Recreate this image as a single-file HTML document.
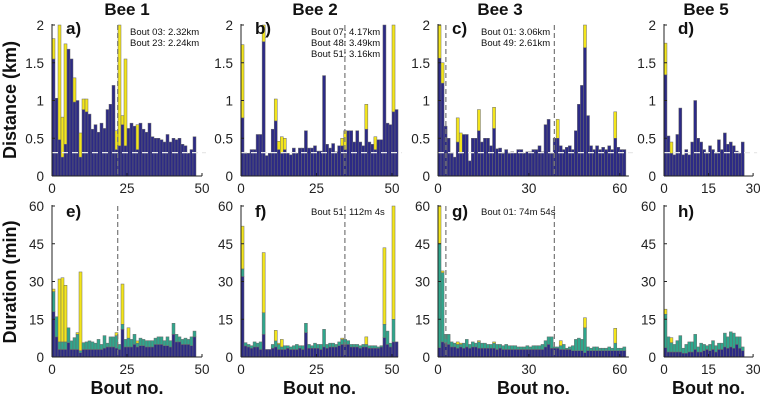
<!DOCTYPE html>
<html><head><meta charset="utf-8"><style>
html,body{margin:0;padding:0;background:#fff;}
svg{display:block;font-family:"Liberation Sans",Arial,sans-serif;}
</style></head><body>
<svg id="chart" width="760" height="400" viewBox="0 0 760 400"></svg>
<script>
// ---------- data ----------
const bee1DistNavy=[1.55,1.03,0.48,0.25,0.42,1.68,1.55,0.98,1.0,0.25,0.88,0.85,0.82,0.62,0.68,0.58,0.7,0.63,0.88,0.95,1.2,0.35,0.4,0.68,0.4,0.63,0.7,0.66,0.35,0.7,0.62,0.58,0.7,0.52,0.5,0.5,0.48,0.45,0.55,0.45,0.5,0.48,0.5,0.42,0.4,0.3,0.35,0.52];
const bee1DistTotal=[1.82,1.03,2.0,0.78,1.75,1.68,1.55,1.3,1.0,0.57,1.02,1.02,0.82,0.62,0.68,0.58,0.7,0.63,0.88,0.95,1.2,0.6,2.0,0.8,1.55,0.63,0.7,0.66,0.68,0.7,0.62,0.58,0.7,0.52,0.5,0.5,0.48,0.45,0.55,0.45,0.5,0.48,0.5,0.42,0.4,0.3,0.35,0.52];
const bee2DistNavy=[0.77,0.3,0.3,0.35,0.35,0.55,0.55,1.78,0.27,0.3,0.62,0.73,0.35,0.3,0.35,0.3,0.28,0.37,0.3,0.37,0.37,0.6,0.37,0.37,0.4,0.33,0.33,1.33,0.42,0.37,0.43,0.32,0.4,0.4,0.35,0.6,0.6,0.45,0.6,0.45,0.4,0.62,0.45,0.42,0.35,0.48,0.48,2.0,0.7,0.68,0.85,0.88];
const bee2DistTotal=[1.74,0.3,0.3,0.35,0.35,0.55,0.55,2.0,0.27,0.3,0.62,1.02,0.46,0.52,0.5,0.3,0.28,0.37,0.3,0.37,0.37,0.6,0.37,0.37,0.4,0.33,0.33,1.33,0.42,0.37,0.43,0.32,0.4,0.5,0.6,0.6,0.6,0.45,0.6,0.45,0.4,0.95,0.45,0.42,0.52,0.48,0.48,2.0,0.7,0.68,2.0,0.88];
const bee3DistNavy=[1.56,1.23,0.66,0.5,0.3,0.25,0.45,0.3,0.55,0.55,0.2,0.5,0.5,0.6,0.45,0.5,0.5,0.4,0.63,0.36,0.37,0.3,0.35,0.3,0.32,0.3,0.35,0.35,0.3,0.32,0.32,0.35,0.35,0.4,0.32,0.68,0.75,0.3,0.5,0.5,0.4,0.35,0.38,0.4,0.35,0.6,0.95,1.2,1.7,0.8,0.4,0.35,0.4,0.35,0.38,0.35,0.4,0.35,0.5,0.38,0.35,0.35];
const bee3DistTotal=[2.0,1.5,0.66,0.5,0.3,0.25,0.77,0.57,0.55,0.55,0.2,0.5,0.5,0.88,0.45,0.5,0.5,0.4,0.91,0.36,0.37,0.3,0.35,0.3,0.32,0.3,0.35,0.35,0.3,0.32,0.32,0.35,0.35,0.4,0.32,0.68,0.75,0.3,0.5,0.75,0.4,0.35,0.38,0.4,0.35,0.6,0.95,1.2,2.0,0.8,0.4,0.35,0.4,0.35,0.38,0.35,0.4,0.35,0.85,0.38,0.35,0.35];
const bee5DistNavy=[1.34,0.53,0.3,0.28,0.55,0.9,0.28,0.35,0.28,0.45,1.0,0.5,0.45,0.35,0.3,0.4,0.35,0.3,0.48,0.35,0.57,0.42,0.45,0.4,0.33,0.3,0.45];
const bee5DistTotal=[1.76,0.53,0.45,0.28,0.55,0.9,0.28,0.35,0.28,0.45,1.0,0.5,0.45,0.35,0.3,0.4,0.35,0.3,0.48,0.35,0.57,0.42,0.45,0.4,0.33,0.3,0.45];

const bee1DurNavy=[18,8,3,3,3,5.7,3,3,3,1.7,3,3,3,3,3,3,3,3.5,4,4,4,3.5,3,11,4,4,4,5,4,4.5,4.5,4,4,4,5,5,5,4.5,4.5,4,9,6,6,5,5,5,4.5,8];
const bee1DurTeal=[26,16,6,6,6,11.6,6.4,7.7,9,2.5,5.7,6,6.4,6,5.5,7,5,8.5,5.5,8,8,8.5,5,13,7,7.5,7,9,5.5,7.5,7,6.5,6.5,6.5,7.5,8,8,6.5,8,6.5,13.4,9,8,7,7.5,7,8,10.3];
const bee1DurTotal=[27,16,31,31.5,28.5,11.6,6.4,7.7,9.7,33.8,5.7,6,6.4,6,5.5,7,5,8.5,5.5,8,8,9.7,5,29,7,11.6,7,9,6.4,7.5,7,6.5,6.5,6.5,7.5,8,8,6.5,8,6.5,13.4,9,8,7,7.5,7,8,10.3];
const bee2DurNavy=[32,4.4,4,3.5,4,4,3,9,3,3,3.5,4,3,3,3,3.5,3,3,3,3.5,3,9.7,3.5,3.5,3.5,3.5,3,4,3.5,4,4,4,4.5,5,5,5,4,4,4,3.5,4,4,3.5,3.5,3.5,3.5,4,7.7,5,4,6,6];
const bee2DurTeal=[35,5.7,5,4.5,6,5.5,6,17.6,3,3,5,6.4,5,4,4.5,4.5,4,4.5,5,4.5,4.5,13.4,5,4.5,5.5,5,5,11,5,5.5,5.5,5,6,7,7,6.5,5,5,5,4.5,5,5,4.5,4.5,4.5,4,4.5,13,10.3,5.5,15,5];
const bee2DurTotal=[52,5.7,5,4.5,6,5.5,6,41.5,3,3,5,10.6,5.5,7,4.5,4.5,4,4.5,5,4.5,4.5,13.4,5,4.5,5.5,5,5,11,5,5.5,5.5,5,6,7.5,7,6.5,5,5,5,4.5,5,8,4.5,4.5,4.5,4,4.5,43.4,10.3,5.5,60,5];
const bee3DurNavy=[3.7,6,5.5,5,4,4,3.5,4,3.5,4,3.5,4,4,3.5,3.5,3.5,3.5,3.5,3.5,3,3.5,3,3,3,3,3,3,3,3,3,3,3,3,3,3,4,5,3.5,3.5,3.5,3,3,3,3,2.5,2.5,2.5,2.5,1.7,2.5,2.5,2.5,2.5,2.5,2.5,2.5,2.5,2.5,2.5,2.5,2.5,2.5];
const bee3DurTeal=[45,33.5,9,9,6,5.5,5,5,5.5,7,5,6,5.5,6,5.5,5.5,5,5,5.5,5,5,4.5,5,4.5,4.5,4.5,4,4,4,4.5,4,4.5,4.5,4.5,5,6.5,8,8,4,4,4.5,5,3.5,4,4.5,7,7.5,7,11.6,4,3.5,4,4,3.5,3.5,3.5,4,3.5,5.5,3.5,3.5,4];
const bee3DurTotal=[60,34.2,9,9,6,5.5,6,5.5,5.5,7,5,6,5.5,6.5,5.5,5.5,5,5,6,5,5,4.5,5,4.5,4.5,4.5,4,4,4,4.5,4,4.5,4.5,4.5,5,6.5,8,8,4,4,6.5,5,3.5,4,4.5,7,7.5,7,15.6,4,3.5,4,4,3.5,3.5,3.5,4,3.5,11.4,3.5,3.5,4];
const bee5DurNavy=[3.7,2,2,2,2,2,1.5,1.5,2,2,3,2,2,2.5,3,2.5,3,2,3,3,4,3.5,4,3.5,5,3.5,2.5];
const bee5DurTeal=[17,8,5.7,5,6.5,8.5,3.5,5,6,6,9,4,5.5,5,4.5,5,6.5,4.5,5.5,5.5,9.5,8,10,9.5,8,8,4];
const bee5DurTotal=[19,8,7.7,5,6.5,8.5,3.5,5,6,6,9,4,5.5,5,4.5,5,6.5,4.5,5.5,5.5,9.5,8,10,9.5,8,8,4];

const distTicks=["0","0.5","1","1.5","2"];
const durTicks=["0","15","30","45","60"];
const beeTitles=["Bee 1","Bee 2","Bee 3","Bee 5"];
const xTicks1=[0,25,50], xTicks2=[0,25,50], xTicks3=[0,30,60], xTicks5=[0,15,30];

// ---------- drawing ----------
const NS="http://www.w3.org/2000/svg";
const svg=document.getElementById('chart');
const NAVY="#2c2a85", YEL="#f3e51b", TEAL="#2fa68c", EDGE="#6a6a6a";
function mk(tag,attrs,parent){const e=document.createElementNS(NS,tag);for(const k in attrs)e.setAttribute(k,attrs[k]);(parent||svg).appendChild(e);return e;}

const cols=[
 {x0:52, k:3.0, xmax:50, ticks:xTicks1, cx:127, vline:[21.9], lab:["a)","e)"]},
 {x0:241,k:3.02,xmax:52, ticks:xTicks2, cx:315, vline:[34.4], lab:["b)","f)"]},
 {x0:438,k:3.03,xmax:63, ticks:xTicks3, cx:500, vline:[2.6,38.4], lab:["c)","g)"]},
 {x0:664,k:2.97,xmax:30, ticks:xTicks5, cx:706, vline:[], lab:["d)","h)"]}
];
const TOP={y0:176, y1:25, vmax:2};
const BOT={y0:357, y1:206, vmax:60};
function yS(p,v){return p.y0-(Math.min(v,p.vmax)/p.vmax)*(p.y0-p.y1);}
function xS(c,b){return c.x0+b*c.k;}

function axes(g,c,p,tickLabels,tickVals){
  mk('line',{x1:c.x0,y1:p.y1-1,x2:c.x0,y2:p.y0,stroke:'#222','stroke-width':1},g);
  mk('line',{x1:c.x0,y1:p.y0,x2:xS(c,c.xmax),y2:p.y0,stroke:'#222','stroke-width':1},g);
  tickLabels.forEach((t,i)=>{
    const y=yS(p,tickVals[i]);
    mk('line',{x1:c.x0,y1:y,x2:c.x0+3,y2:y,stroke:'#222'},g);
    const tx=mk('text',{x:c.x0-8,y:y+5,'text-anchor':'end','font-size':13.5,fill:'#222'},g);tx.textContent=t;
    
    
  });
  c.ticks.forEach(v=>{
    const x=xS(c,v);
    mk('line',{x1:x,y1:p.y0,x2:x,y2:p.y0-3,stroke:'#222'},g);
    const tx=mk('text',{x:x,y:p.y0+17,'text-anchor':'middle','font-size':13.5,fill:'#222'},g);tx.textContent=v;
    
    
  });
}
function vlines(g,c,p){
  c.vline.forEach(b=>{const l=mk('line',{x1:xS(c,b),x2:xS(c,b),y1:p.y1,y2:p.y0,stroke:'#777','stroke-width':1.2,'stroke-dasharray':'5,3'},g);
    
    });
}
function bar(g,c,p,i,lo,hi,color,name){
  if(hi<=lo)return;
  const r=mk('rect',{x:xS(c,i),y:yS(p,hi),width:c.k,height:Math.max(0,yS(p,lo)-yS(p,hi)),fill:color,stroke:EDGE,'stroke-width':0.5},g);
  
  
}

const distNavy=[bee1DistNavy,bee2DistNavy,bee3DistNavy,bee5DistNavy];
const distTotal=[bee1DistTotal,bee2DistTotal,bee3DistTotal,bee5DistTotal];
const durNavy=[bee1DurNavy,bee2DurNavy,bee3DurNavy,bee5DurNavy];
const durTeal=[bee1DurTeal,bee2DurTeal,bee3DurTeal,bee5DurTeal];
const durTotal=[bee1DurTotal,bee2DurTotal,bee3DurTotal,bee5DurTotal];
const distAnn=[["Bout 03: 2.32km","Bout 23: 2.24km"],["Bout 07: 4.17km","Bout 48: 3.49km","Bout 51: 3.16km"],["Bout 01: 3.06km","Bout 49: 2.61km"],[]];
const durAnn=[[],["Bout 51: 112m 4s"],["Bout 01: 74m 54s"],[]];
const annX=[130,311,481,0];

cols.forEach((c,ci)=>{
  const t=mk('text',{x:c.cx,y:15,'text-anchor':'middle','font-size':17,'font-weight':'bold',fill:'#111'});
  t.textContent=beeTitles[ci];
  
  
  const g1=mk('g',{});
  
  
  distNavy[ci].forEach((v,i)=>{
    bar(g1,c,TOP,i,0,v,NAVY,'distance-bar');
    bar(g1,c,TOP,i,v,distTotal[ci][i],YEL,'distance-extra-bar');
  });
  const hl=mk('line',{x1:c.x0,x2:xS(c,c.xmax)+4,y1:yS(TOP,0.31),y2:yS(TOP,0.31),stroke:'#e8e8e8','stroke-width':1.2,'stroke-dasharray':'6,4'},g1);
  
  
  vlines(g1,c,TOP);
  axes(g1,c,TOP,distTicks,[0,0.5,1,1.5,2]);
  const la=mk('text',{x:c.x0+14,y:34,'font-size':17,'font-weight':'bold',fill:'#111'},g1);la.textContent=c.lab[0];
  
  
  distAnn[ci].forEach((s,j)=>{const a=mk('text',{x:annX[ci],y:35+j*11,'font-size':9.5,fill:'#111'},g1);a.textContent=s;
    
    });
  const g2=mk('g',{});
  
  
  durNavy[ci].forEach((v,i)=>{
    bar(g2,c,BOT,i,0,v,NAVY,'duration-base-bar');
    bar(g2,c,BOT,i,v,durTeal[ci][i],TEAL,'duration-mid-bar');
    bar(g2,c,BOT,i,durTeal[ci][i],durTotal[ci][i],YEL,'duration-extra-bar');
  });
  vlines(g2,c,BOT);
  axes(g2,c,BOT,durTicks,[0,15,30,45,60]);
  const lb=mk('text',{x:c.x0+14,y:217,'font-size':17,'font-weight':'bold',fill:'#111'},g2);lb.textContent=c.lab[1];
  
  
  durAnn[ci].forEach((s,j)=>{const a=mk('text',{x:annX[ci],y:215+j*11,'font-size':9.5,fill:'#111'},g2);a.textContent=s;
    
    });
  const xl=mk('text',{x:xS(c,c.xmax/2),y:394,'text-anchor':'middle','font-size':18,'font-weight':'bold',fill:'#111'});
  xl.textContent='Bout no.';
  
  
});
const y1=mk('text',{x:0,y:0,'text-anchor':'middle','font-size':18,'font-weight':'bold',fill:'#111',transform:'translate(16,100) rotate(-90)'});
y1.textContent='Distance (km)';


const y2=mk('text',{x:0,y:0,'text-anchor':'middle','font-size':18,'font-weight':'bold',fill:'#111',transform:'translate(16,282) rotate(-90)'});
y2.textContent='Duration (min)';


</script>
</body></html>
